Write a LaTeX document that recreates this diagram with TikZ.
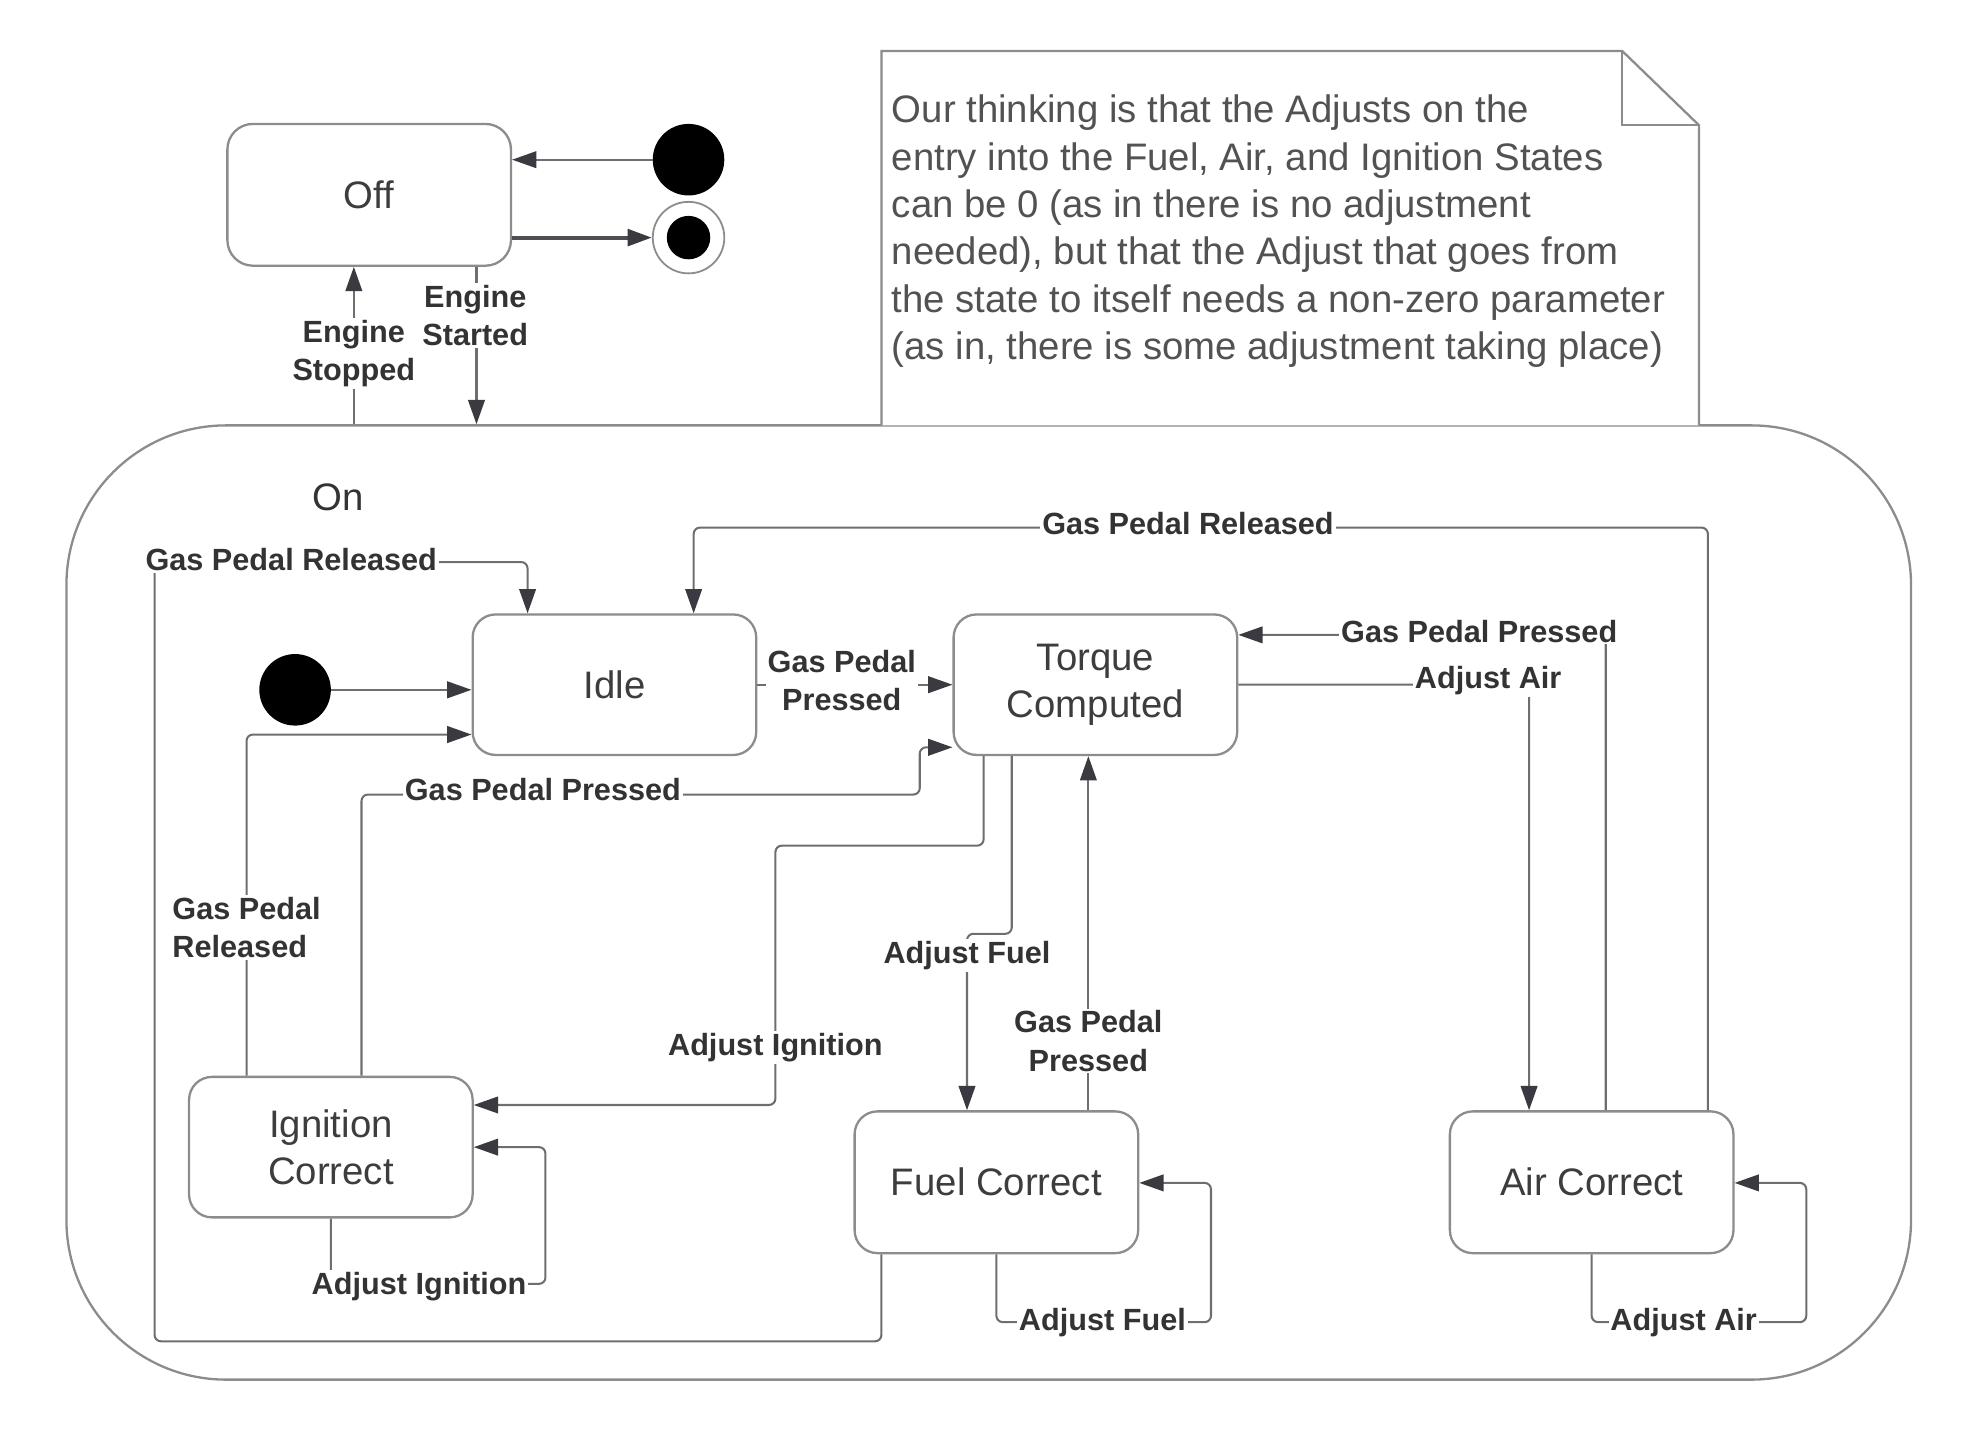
\documentclass[tikz,border=0pt]{standalone}
\usepackage{fontspec}
\setmainfont{Liberation Sans}
\usetikzlibrary{arrows.meta}
\definecolor{ln}{HTML}{6E6E6E}
\definecolor{bx}{HTML}{8C8C8C}
\definecolor{tx}{HTML}{333333}
\definecolor{ah}{HTML}{3A3A40}
\tikzset{
  statebox/.style={draw=bx, line width=1.8pt, rounded corners=18pt, minimum width=222pt, minimum height=110pt, align=center, font=\fontsize{30}{37}\selectfont, text=tx!95!white, inner sep=0pt},
  tr/.style={draw=ln, line width=1.6pt, rounded corners=5pt, -{Triangle[length=19pt,width=13pt,color=ah]}},
  lab/.style={font=\bfseries\fontsize{24}{30}\selectfont, text=tx, fill=white, inner sep=1.5pt, align=center},
  dot/.style={circle, fill=black, inner sep=0pt, minimum size=56pt},
}
\begin{document}
\begin{tikzpicture}[x=1pt,y=-1pt]
\useasboundingbox (0,0) rectangle (1550,1119);
% containers
\node[draw=bx, line width=1.8pt, rounded corners=125pt, minimum width=1444pt, minimum height=747pt, inner sep=0pt] (on) at (774,706.5) {};
\node[font=\fontsize{30}{37}\selectfont, text=tx] (onlabel) at (265,389) {On};
% note
\draw[draw=bx, line width=1.8pt, fill=white] (690,333) -- (690,40) -- (1270,40) -- (1330,98) -- (1330,333);
\draw[draw=bx, line width=1.8pt] (1270,40) -- (1270,98) -- (1330,98);
\node[anchor=west, inner sep=0pt, align=left, text=tx!85!white, font=\fontsize{30}{37}\selectfont] (note) at (698,181) {Our thinking is that the Adjusts on the\\entry into the Fuel, Air, and Ignition States\\can be 0 (as in there is no adjustment\\needed), but that the Adjust that goes from\\the state to itself needs a non-zero parameter\\(as in, there is some adjustment taking place)};
% states
\node[statebox, rounded corners=20pt, minimum height=111pt] (off) at (289,152.5) {Off};
\node[dot] (init1) at (539,125) {};
\node[circle, draw=bx, line width=1.4pt, inner sep=0pt, minimum size=56pt] (fin) at (539,186) {};
\node[circle, fill=black, inner sep=0pt, minimum size=34pt] (finin) at (539,186) {};
\node[statebox] (idle) at (481,536) {Idle};
\node[statebox] (torque) at (857.5,536) {Torque\\Computed};
\node[statebox] (ign) at (259,898) {Ignition\\Correct};
\node[statebox, minimum height=111pt] (fuel) at (780,925.5) {Fuel Correct};
\node[statebox, minimum height=111pt] (air) at (1246,925.5) {Air Correct};
\node[dot] (init2) at (231,540) {};
% helper coordinates
\coordinate (es) at (373,0);
\coordinate (est) at (277,0);
\coordinate (p1) at (1337,413); \coordinate (p2) at (543,413);
\coordinate (q1) at (690,1050); \coordinate (q2) at (121,1050); \coordinate (q3) at (121,440); \coordinate (q4) at (413,440);
\coordinate (r1) at (1197,536);
\coordinate (s1) at (1257,497);
\coordinate (t1) at (792,731); \coordinate (t2) at (757,731);
\coordinate (u1) at (852,0);
\coordinate (v1) at (770,662); \coordinate (v2) at (607,662); \coordinate (v3) at (607,865);
\coordinate (w1) at (283,622); \coordinate (w2) at (720,622); \coordinate (w3) at (720,585);
\coordinate (z1) at (193,575);
\coordinate (a1) at (259,1005); \coordinate (a2) at (427,1005); \coordinate (a3) at (427,898);
\coordinate (b1) at (780,1035); \coordinate (b2) at (948,1035); \coordinate (b3) at (948,926);
\coordinate (c1) at (1246,1035); \coordinate (c2) at (1414,1035); \coordinate (c3) at (1414,926);
% connectors
\draw[tr] (init1.west) -- (off.east |- init1.west);
\draw[tr, line width=3pt, draw=ah!90!white] (off.east |- fin) -- (fin.west);
\draw[tr] (off.south -| es) -- (on.north -| es);
\draw[tr] (on.north -| est) -- (off.south -| est);
\draw[tr] (init2.east) -- (idle.west |- init2.east);
\draw[tr] (idle.east) -- (torque.west);
\draw[tr] (air.north -| p1) -- (p1) -- (p2) -- (idle.north -| p2);
\draw[tr] (fuel.south -| q1) -- (q1) -- (q2) -- (q3) -- (q4) -- (idle.north -| q4);
\draw[tr] (torque.east) -- (r1) -- (air.north -| r1);
\draw[tr] (air.north -| s1) -- (s1) -- (torque.east |- s1);
\draw[tr] (torque.south -| t1) -- (t1) -- (t2) -- (fuel.north -| t2);
\draw[tr] (fuel.north -| u1) -- (torque.south -| u1);
\draw[tr] (torque.south -| v1) -- (v1) -- (v2) -- (v3) -- (ign.east |- v3);
\draw[tr] (ign.north -| w1) -- (w1) -- (w2) -- (w3) -- (torque.west |- w3);
\draw[tr] (ign.north -| z1) -- (z1) -- (idle.west |- z1);
\draw[tr] (ign.south) -- (a1) -- (a2) -- (a3) -- (ign.east |- a3);
\draw[tr] (fuel.south) -- (b1) -- (b2) -- (b3) -- (fuel.east |- b3);
\draw[tr] (air.south) -- (c1) -- (c2) -- (c3) -- (air.east |- c3);
% labels
\node[lab] (lES) at (372,247) {Engine\\Started};
\node[lab] (lEST) at (277,277) {Engine\\Stopped};
\node[lab] (l1) at (659,533) {Gas Pedal\\Pressed};
\node[lab] (l2) at (930,410) {Gas Pedal Released};
\node[lab] (l3) at (228,438) {Gas Pedal Released};
\node[lab] (l4) at (1165,533) {Adjust Air};
\node[lab] (l5) at (1158,494) {Gas Pedal Pressed};
\node[lab] (l6) at (757,748) {Adjust Fuel};
\node[lab] (l7) at (852,815) {Gas Pedal\\Pressed};
\node[lab] (l8) at (607,820) {Adjust Ignition};
\node[lab] (l9) at (425,618) {Gas Pedal Pressed};
\node[lab, align=left] (l10) at (193,726) {Gas Pedal\\Released};
\node[lab] (l11) at (328,1007) {Adjust Ignition};
\node[lab] (l12) at (863,1035) {Adjust Fuel};
\node[lab] (l13) at (1318,1035) {Adjust Air};
\end{tikzpicture}
\end{document}
